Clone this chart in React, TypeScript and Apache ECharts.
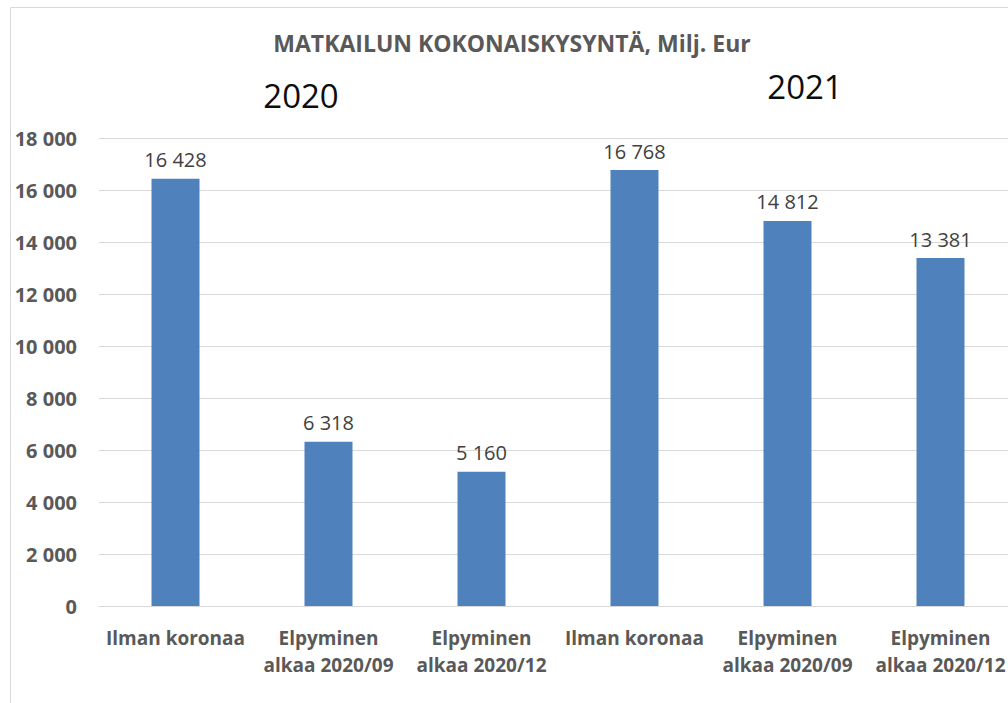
import React, { useEffect, useRef } from "react";
import * as echarts from "echarts";

const categories = [
  "Ilman koronaa",
  "Elpyminen\nalkaa 2020/09",
  "Elpyminen\nalkaa 2020/12",
  "Ilman koronaa",
  "Elpyminen\nalkaa 2020/09",
  "Elpyminen\nalkaa 2020/12",
];
const values = [16428, 6318, 5160, 16768, 14812, 13381];
const yearLabels = ["2020", "2021"];
const titleText = "MATKAILUN KOKONAISKYSYNTÄ, Milj. Eur";

const FONT = "'Open Sans', 'Noto Sans', sans-serif";

function fmt(v: number): string {
  return String(Math.round(v)).replace(/\B(?=(\d{3})+(?!\d))/g, " ");
}

export default function App() {
  const ref = useRef<HTMLDivElement>(null);
  useEffect(() => {
    if (!ref.current) return;
    const chart = echarts.init(ref.current, undefined, { renderer: "svg" });
    chart.setOption({
      animation: false,
      backgroundColor: "#ffffff",
      grid: {
        left: 99,
        right: -9,
        top: 138,
        bottom: 97,
        containLabel: false,
        outerBoundsMode: "none",
      },
      xAxis: {
        type: "category",
        data: categories,
        axisLine: { show: true, lineStyle: { color: "#d9d9d9", width: 1 } },
        axisTick: { show: false },
        axisLabel: {
          interval: 0,
          margin: 18,
          color: "#595959",
          fontFamily: FONT,
          fontWeight: "bold",
          fontSize: 19,
          lineHeight: 27,
          hideOverlap: false,
        },
      },
      yAxis: {
        type: "value",
        min: 0,
        max: 18000,
        interval: 2000,
        axisLine: { show: false },
        axisTick: { show: false },
        splitLine: { lineStyle: { color: "#d9d9d9", width: 1 } },
        axisLabel: {
          margin: 22,
          color: "#595959",
          fontFamily: FONT,
          fontWeight: "bold",
          fontSize: 20,
          formatter: (v: number) => fmt(v),
        },
      },
      series: [
        {
          type: "bar",
          data: values,
          barWidth: 48,
          itemStyle: { color: "#4F81BD" },
          label: {
            show: true,
            position: "top",
            distance: 9,
            color: "#404040",
            fontFamily: FONT,
            fontSize: 20,
            formatter: (p: any) => fmt(p.value),
          },
        },
      ],
      graphic: [
        {
          type: "rect",
          silent: true,
          shape: { x: 10.5, y: 7.5, width: 1100, height: 1000 },
          style: { fill: "none", stroke: "#d9d9d9", lineWidth: 1 },
        },
        {
          type: "text",
          x: 512,
          y: 43,
          style: {
            text: titleText,
            fill: "#595959",
            font: `bold 23px ${FONT}`,
            align: "center",
            verticalAlign: "middle",
          },
        },
        {
          type: "text",
          x: 301,
          y: 95,
          style: {
            text: yearLabels[0],
            fill: "#0d0d0d",
            font: `33px ${FONT}`,
            align: "center",
            verticalAlign: "middle",
          },
        },
        {
          type: "text",
          x: 805,
          y: 86,
          style: {
            text: yearLabels[1],
            fill: "#0d0d0d",
            font: `33px ${FONT}`,
            align: "center",
            verticalAlign: "middle",
          },
        },
      ],
    });
    return () => chart.dispose();
  }, []);
  return (
    <div
      ref={ref}
      style={{ position: "fixed", left: 0, top: 0, width: 1008, height: 703 }}
    />
  );
}
